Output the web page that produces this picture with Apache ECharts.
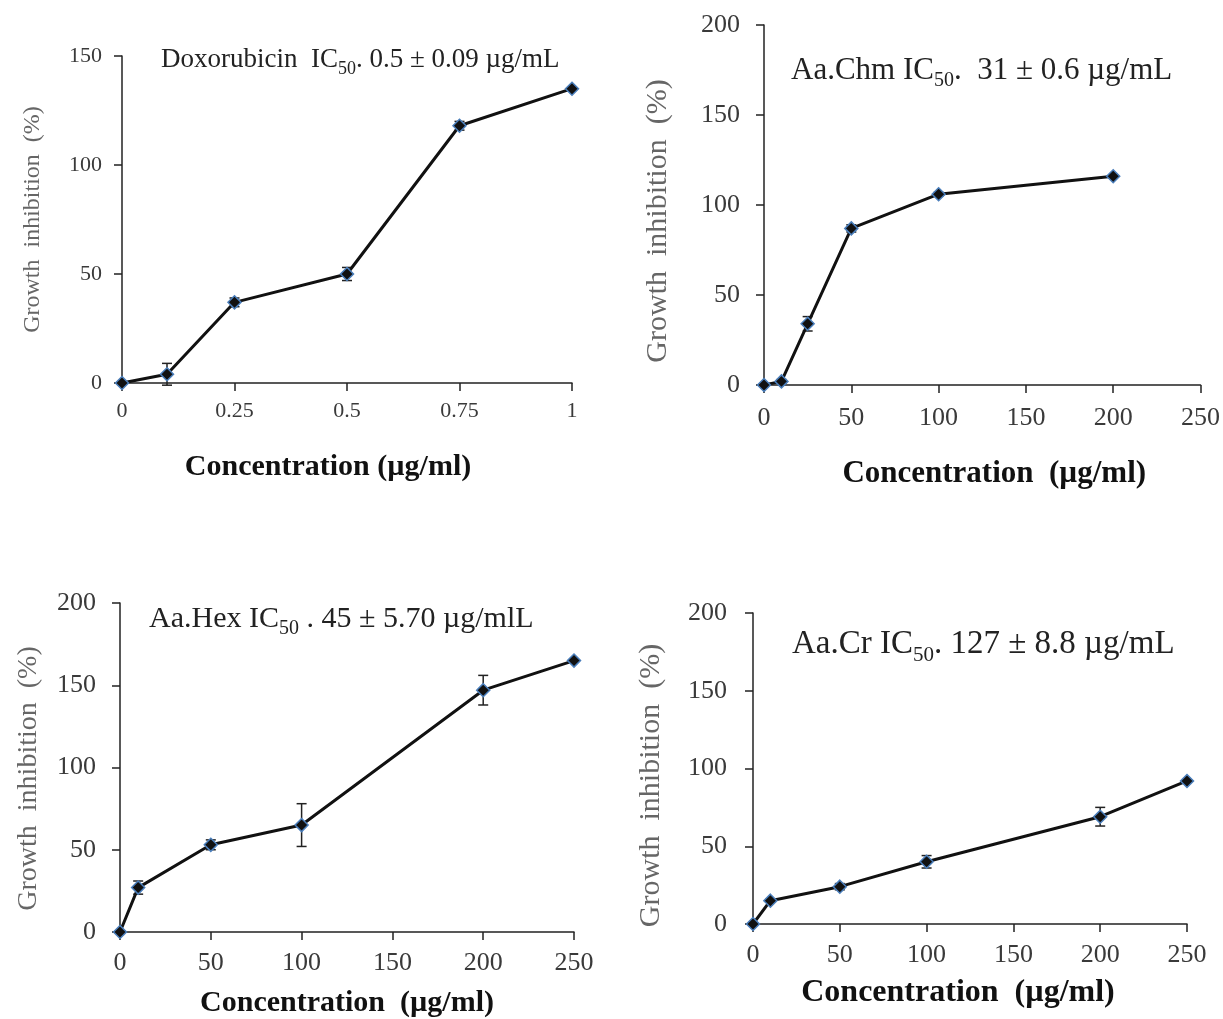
<!DOCTYPE html>
<html>
<head>
<meta charset="utf-8">
<script src="https://cdn.jsdelivr.net/npm/echarts@6/dist/echarts.min.js"></script>
<style>
  html, body { margin: 0; padding: 0; background: #fff; }
  #chart { width: 1223px; height: 1019px; }
</style>
</head>
<body>
<div id="chart"></div>
<script>
// Doxorubicin (top left)
const doxConc = [0, 0.1, 0.25, 0.5, 0.75, 1];
const doxInhib = [0, 4, 37, 50, 118, 135];
const doxErr = [0, 5, 2, 3, 2, 0];

// Aa.Chm (top right)
const chmConc = [0, 10, 25, 50, 100, 200];
const chmInhib = [0, 2, 34, 87, 106, 116];
const chmErr = [0, 1, 4, 2, 1, 0];

// Aa.Hex (bottom left)
const hexConc = [0, 10, 50, 100, 200, 250];
const hexInhib = [0, 27, 53, 65, 147, 165];
const hexErr = [0, 4, 3, 13, 9, 0];

// Aa.Cr (bottom right)
const crConc = [0, 10, 50, 100, 200, 250];
const crInhib = [0, 15, 24, 40, 69, 92];
const crErr = [0, 1, 2, 4, 6, 0];

const FONT = "'Liberation Serif', 'Times New Roman', serif";

const chart = echarts.init(document.getElementById("chart"));

// layout of the four panels
const panels = [
  { x: doxConc, y: doxInhib, err: doxErr, grid: { left: 122, top: 56, width: 450, height: 327 },
    xMax: 1, xInt: 0.25, yMax: 150, yInt: 50, tick: 22, yGap: 77, yName: 24, yPad: [0, 0, 0, 0],
    xGap: 69, xName: 30, xPad: [0, 38, 0, 0], labX: 17, labY: 20,
    title: ["Doxorubicin  IC", "50", ". 0.5 ± 0.09 µg/mL"], tLeft: 156, tTop: 41, tSize: 27,
    xText: "Concentration (µg/ml)" },
  { x: chmConc, y: chmInhib, err: chmErr, grid: { left: 764, top: 25, width: 439, height: 360 },
    xMax: 250, xInt: 50, yMax: 200, yInt: 50, tick: 26, yGap: 91, yName: 30, yPad: [0, 32, 0, 0],
    xGap: 73, xName: 31, xPad: [0, 0, 0, 24], labX: 20, labY: 24,
    title: ["Aa.Chm IC", "50", ".  31 ± 0.6 µg/mL"], tLeft: 786, tTop: 50, tSize: 31,
    xText: "Concentration  (µg/ml)" },
  { x: hexConc, y: hexInhib, err: hexErr, grid: { left: 120, top: 603, width: 454, height: 329 },
    xMax: 250, xInt: 50, yMax: 200, yInt: 50, tick: 26, yGap: 77, yName: 28, yPad: [0, 22, 0, 0],
    xGap: 56, xName: 30, xPad: [0, 0, 0, 0], labX: 18, labY: 24,
    title: ["Aa.Hex IC", "50", " . 45 ± 5.70 µg/mlL"], tLeft: 144, tTop: 599, tSize: 30,
    xText: "Concentration  (µg/ml)" },
  { x: crConc, y: crInhib, err: crErr, grid: { left: 753, top: 613, width: 434, height: 311 },
    xMax: 250, xInt: 50, yMax: 200, yInt: 50, tick: 26, yGap: 87, yName: 30, yPad: [0, 34, 0, 0],
    xGap: 53, xName: 32, xPad: [0, 24, 0, 0], labX: 18, labY: 26,
    title: ["Aa.Cr IC", "50", ". 127 ± 8.8 µg/mL"], tLeft: 787, tTop: 623, tSize: 33,
    xText: "Concentration  (µg/ml)" }
];

const grid = [], xAxis = [], yAxis = [], series = [], title = [];

panels.forEach((p, i) => {
  grid.push(p.grid);

  title.push({
    left: p.tLeft,
    top: p.tTop,
    text: "{a|" + p.title[0] + "}{s|" + p.title[1] + "}{a|" + p.title[2] + "}",
    textStyle: {
      fontWeight: "normal",
      rich: {
        a: { fontFamily: FONT, fontSize: p.tSize, fontWeight: "normal", color: "#222" },
        s: { fontFamily: FONT, fontSize: Math.round(p.tSize * 0.65), fontWeight: "normal", color: "#222",
             verticalAlign: "bottom", padding: [0, 0, -5, 0] }
      }
    }
  });

  xAxis.push({
    gridIndex: i,
    type: "value",
    min: 0,
    max: p.xMax,
    interval: p.xInt,
    splitLine: { show: false },
    axisLine: { onZero: false, lineStyle: { color: "#222", width: 1.5 } },
    axisTick: { length: 8, lineStyle: { color: "#222", width: 1.5 } },
    axisLabel: { fontFamily: FONT, fontSize: p.tick, color: "#3a3a3a", margin: p.labX },
    name: p.xText,
    nameLocation: "middle",
    nameGap: p.xGap,
    nameTextStyle: { fontFamily: FONT, fontSize: p.xName, fontWeight: "bold", color: "#111", padding: p.xPad }
  });

  yAxis.push({
    gridIndex: i,
    type: "value",
    min: 0,
    max: p.yMax,
    interval: p.yInt,
    splitLine: { show: false },
    axisLine: { show: true, lineStyle: { color: "#222", width: 1.5 } },
    axisTick: { show: true, length: 8, lineStyle: { color: "#222", width: 1.5 } },
    axisLabel: { fontFamily: FONT, fontSize: p.tick, color: "#3a3a3a", margin: p.labY },
    name: "Growth  inhibition  (%)",
    nameLocation: "middle",
    nameGap: p.yGap,
    nameTextStyle: { fontFamily: FONT, fontSize: p.yName, color: "#666", padding: p.yPad }
  });

  const pts = p.x.map((v, k) => [v, p.y[k]]);

  // error bars
  series.push({
    type: "custom",
    xAxisIndex: i,
    yAxisIndex: i,
    data: p.x.map((v, k) => [v, p.y[k] - p.err[k], p.y[k] + p.err[k]]),
    renderItem: (params, api) => {
      const lo = api.coord([api.value(0), api.value(1)]);
      const hi = api.coord([api.value(0), api.value(2)]);
      if (Math.abs(hi[1] - lo[1]) < 1) return null;
      const w = 5;
      const st = { stroke: "#222", lineWidth: 1.5 };
      return {
        type: "group",
        children: [
          { type: "line", shape: { x1: lo[0], y1: lo[1], x2: hi[0], y2: hi[1] }, style: st },
          { type: "line", shape: { x1: lo[0] - w, y1: lo[1], x2: lo[0] + w, y2: lo[1] }, style: st },
          { type: "line", shape: { x1: hi[0] - w, y1: hi[1], x2: hi[0] + w, y2: hi[1] }, style: st }
        ]
      };
    },
    z: 3
  });

  series.push({
    type: "line",
    xAxisIndex: i,
    yAxisIndex: i,
    data: pts,
    symbol: "diamond",
    symbolSize: 13,
    lineStyle: { color: "#111", width: 3 },
    itemStyle: { color: "#111", borderColor: "#4a7ebb", borderWidth: 1.5 },
    z: 4
  });
});

chart.setOption({
  animation: false,
  backgroundColor: "#fff",
  title,
  grid,
  xAxis,
  yAxis,
  series
});

window.addEventListener("resize", () => chart.resize());
</script>
</body>
</html>
